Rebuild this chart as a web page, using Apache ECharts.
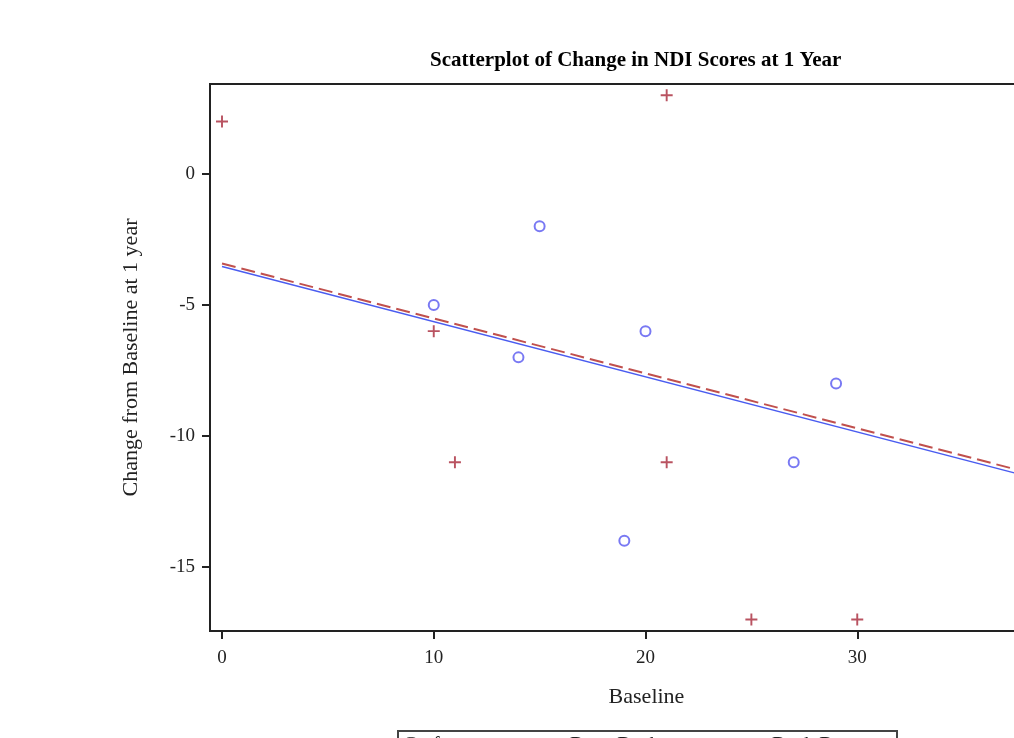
<!DOCTYPE html>
<html>
<head>
<meta charset="utf-8">
<script src="https://cdn.jsdelivr.net/npm/echarts@6/dist/echarts.min.js"></script>
<style>
html,body{margin:0;padding:0;background:#fff;overflow:hidden;width:1014px;height:738px;}
#chart{width:1120px;height:738px;}
</style>
</head>
<body>
<div id="chart"></div>
<script>
// Data
const titleText = 'Scatterplot of Change in NDI Scores at 1 Year';
const xTicks = [0, 10, 20, 30, 40];
const yTicks = [-15, -10, -5, 0];
const circleGroup = [[10,-5],[14,-7],[15,-2],[19,-14],[20,-6],[27,-11],[29,-8]];
const plusGroup = [[0,2],[21,3],[10,-6],[11,-11],[21,-11],[25,-17],[30,-17]];
const circleFit = [[0,-3.53],[40,-11.95]];
const plusFit = [[0,-3.42],[40,-11.8]];
const legendLabels = ['Graft', 'Bone Bank', 'Bank Bone'];

const plusPath = 'path://M-1.6,-10L1.6,-10L1.6,-1.6L10,-1.6L10,1.6L1.6,1.6L1.6,10L-1.6,10L-1.6,1.6L-10,1.6L-10,-1.6L-1.6,-1.6Z';
const serif = '"Liberation Serif","DejaVu Serif",serif';
const chart = echarts.init(document.getElementById('chart'));
chart.setOption({
  animation: false,
  backgroundColor: '#fff',
  title: {
    text: titleText, left: 425, top: 45,
    textStyle: {fontFamily: serif, fontSize: 21, fontWeight: 'bold', color: '#000'}
  },
  grid: {left: 210, top: 84, right: 51, bottom: 107, show: true, borderColor: '#222', borderWidth: 2, containLabel: false},
  xAxis: {
    type: 'value', min: -0.567, max: 40,
    name: 'Baseline', nameLocation: 'middle', nameGap: 55,
    nameTextStyle: {fontFamily: serif, fontSize: 22, color: '#222', padding: [0, 0, 0, 14]},
    axisLine: {show: true, onZero: false, lineStyle: {color: '#222', width: 2}},
    axisTick: {show: true, length: 8, customValues: xTicks, lineStyle: {color: '#222', width: 2}},
    axisLabel: {customValues: xTicks, fontFamily: serif, fontSize: 19, color: '#222', margin: 18},
    splitLine: {show: false}
  },
  yAxis: {
    type: 'value', min: -17.44, max: 3.43,
    name: 'Change from Baseline at 1 year', nameLocation: 'middle', nameGap: 68, nameRotate: 90,
    nameTextStyle: {fontFamily: serif, fontSize: 22, color: '#222'},
    axisLine: {show: true, onZero: false, lineStyle: {color: '#222', width: 2}},
    axisTick: {show: true, length: 8, customValues: yTicks, lineStyle: {color: '#222', width: 2}},
    axisLabel: {customValues: yTicks, fontFamily: serif, fontSize: 19, color: '#222', margin: 15},
    splitLine: {show: false}
  },
  series: [
    {type: 'line', data: plusFit, symbol: 'none', lineStyle: {color: '#c0504d', width: 2, type: [14, 6]}, z: 2},
    {type: 'line', data: circleFit, symbol: 'none', lineStyle: {color: '#4a5cf0', width: 1.5}, z: 3},
    {type: 'scatter', data: circleGroup, symbol: 'circle', symbolSize: 10,
     itemStyle: {color: '#fff', borderColor: '#5858f0', borderWidth: 2}, z: 4},
    {type: 'scatter', data: plusGroup, symbol: plusPath, symbolSize: 12,
     itemStyle: {color: '#a8283a'}, z: 4}
  ],
  graphic: [
    {type: 'rect', shape: {x: 398, y: 731, width: 499, height: 40}, style: {fill: '#fff', stroke: '#444', lineWidth: 2}, z: 10},
    {type: 'text', x: 403, y: 736, style: {text: legendLabels[0], font: '20px ' + serif, fill: '#222'}, z: 11},
    {type: 'text', x: 570, y: 736, style: {text: legendLabels[1], font: '20px ' + serif, fill: '#222'}, z: 11},
    {type: 'text', x: 772, y: 736, style: {text: legendLabels[2], font: '20px ' + serif, fill: '#222'}, z: 11}
  ]
});
</script>
</body>
</html>
